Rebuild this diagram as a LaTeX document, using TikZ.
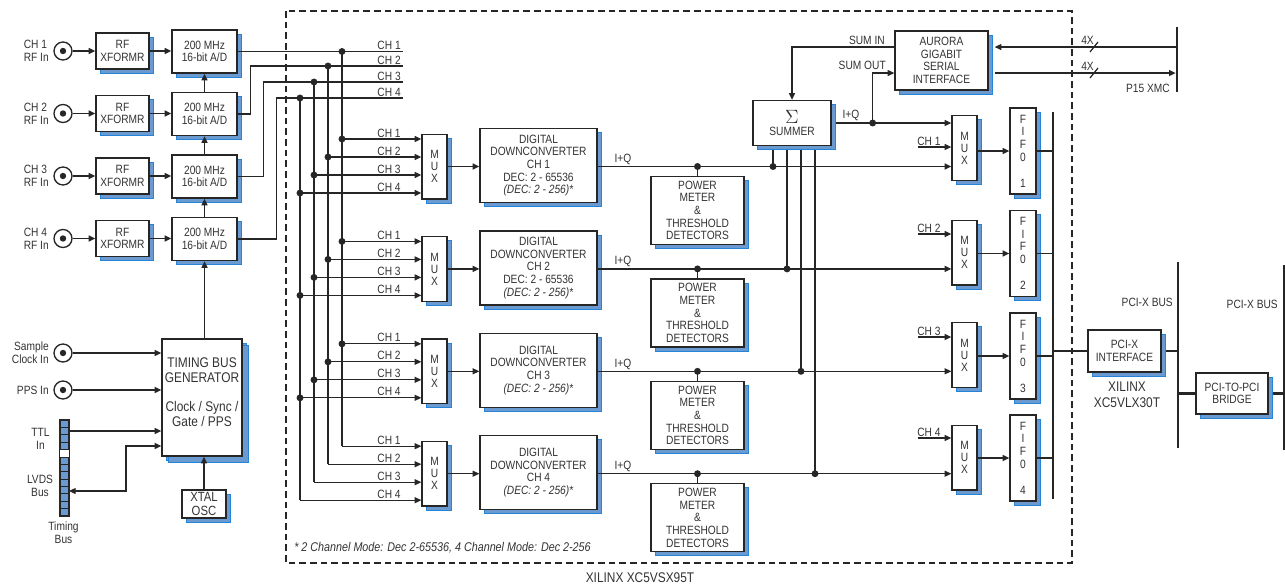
\documentclass[tikz,border=0pt]{standalone}
\usepackage{fontspec}
\setmainfont{Liberation Sans}[FakeStretch=0.85]
\usetikzlibrary{arrows.meta,shadows}
\definecolor{linec}{HTML}{262626}
\definecolor{txt}{HTML}{333333}
\definecolor{shadowblue}{HTML}{6A9AD0}
\definecolor{shadowedge}{HTML}{2584D8}

\begin{document}
\begin{tikzpicture}[x=0.75pt,y=-0.75pt,>={Triangle[length=5pt,width=4.5pt]}]
            \tikzstyle{every node}=[font=\fontsize{9}{9.5}\selectfont, text=txt, inner sep=0pt]
            \tikzstyle{blk}=[draw=linec, fill=white, line width=1pt, align=center, drop shadow={shadow xshift=3.5pt, shadow yshift=-3pt, fill=shadowblue, draw=shadowedge, line width=0.5pt, opacity=1}]
            \tikzstyle{rfbox}=[blk, minimum width=39.75pt, minimum height=27pt]
            \tikzstyle{adbox}=[blk, minimum width=48.75pt, minimum height=32.25pt]
            \tikzstyle{muxbox}=[blk, minimum width=18.75pt, minimum height=48.5pt, font=\fontsize{9}{9}\selectfont]
            \tikzstyle{ddcbox}=[blk, minimum width=87.75pt, minimum height=55.5pt]
            \tikzstyle{pmbox}=[blk, minimum width=69.75pt, minimum height=51pt]
            \tikzstyle{fifobox}=[blk, minimum width=19.5pt, minimum height=64.5pt]
            \tikzstyle{wire}=[linec, line width=0.9pt]
            \tikzstyle{bus}=[linec, line width=2pt]
            \tikzstyle{jack}=[circle, draw=linec, line width=1pt, minimum size=13.5pt, path picture={\fill[linec] (path picture bounding box.center) circle (2.4pt);}]
            \useasboundingbox (0,0) rectangle (1285,586);
            \draw [linec, line width=0.8pt, dash pattern=on 5pt off 3pt] (286,11) rectangle (1072,563);
            \node[anchor=east, align=left] (lbl1) at (49,51) {CH 1\\RF In};
            \node[anchor=east, align=left] (lbl2) at (49,113.5) {CH 2\\RF In};
            \node[anchor=east, align=left] (lbl3) at (49,176) {CH 3\\RF In};
            \node[anchor=east, align=left] (lbl4) at (49,238.5) {CH 4\\RF In};
            \node[jack] (rfin1) at (63,51) {};
            \node[jack] (rfin2) at (63,113.5) {};
            \node[jack] (rfin3) at (63,176) {};
            \node[jack] (rfin4) at (63,238.5) {};
            \node[rfbox] (xf1) at (122.5,51) {RF\\XFORMR};
            \node[rfbox] (xf2) at (122.5,113.5) {RF\\XFORMR};
            \node[rfbox] (xf3) at (122.5,176) {RF\\XFORMR};
            \node[rfbox] (xf4) at (122.5,238.5) {RF\\XFORMR};
            \node[adbox] (ad1) at (204.5,51.5) {200 MHz\\16-bit A/D};
            \node[adbox] (ad2) at (204.5,114) {200 MHz\\16-bit A/D};
            \node[adbox] (ad3) at (204.5,176.5) {200 MHz\\16-bit A/D};
            \node[adbox] (ad4) at (204.5,239) {200 MHz\\16-bit A/D};
            \draw [wire,->] (rfin1) -- (xf1);
            \draw [wire,->] (rfin2) -- (xf2);
            \draw [wire,->] (rfin3) -- (xf3);
            \draw [wire,->] (rfin4) -- (xf4);
            \draw [wire,->] (xf1.east) -- (xf1.east -| ad1.west);
            \draw [wire,->] (xf2.east) -- (xf2.east -| ad2.west);
            \draw [wire,->] (xf3.east) -- (xf3.east -| ad3.west);
            \draw [wire,->] (xf4.east) -- (xf4.east -| ad4.west);
            \draw [wire,->] (ad2.north) -- (ad1.south);
            \draw [wire,->] (ad3.north) -- (ad2.south);
            \draw [wire,->] (ad4.north) -- (ad3.south);
            \node[blk, minimum width=60pt, minimum height=87.75pt, font=\fontsize{10.5}{11.25}\selectfont, drop shadow={shadow xshift=5pt, shadow yshift=-5pt, fill=shadowblue, draw=shadowedge, line width=0.5pt, opacity=1}] (tbg) at (202,397.5) {TIMING BUS\\GENERATOR\\[11pt]Clock / Sync /\\Gate / PPS\\[-3.25pt]};
            \node[blk, minimum width=33pt, minimum height=21pt, font=\fontsize{10}{10}\selectfont] (xtal) at (204,504) {XTAL\\OSC};
            \draw [wire,->] (ad4.south |- tbg.north) -- (ad4.south);
            \draw [wire,->] (xtal.north) -- (xtal.north |- tbg.south);
            \node[anchor=east, align=right] (sclklbl) at (49,353) {Sample\\Clock In};
            \node[anchor=east] (ppslbl) at (49,390) {PPS In};
            \node[jack] (sclk) at (63,353) {};
            \node[jack] (pps) at (63,390) {};
            \draw [wire,->] (sclk) -- (sclk -| tbg.west);
            \draw [wire,->] (pps) -- (pps -| tbg.west);
            \node[draw=linec, fill=shadowblue, line width=0.8pt, minimum width=6.75pt, minimum height=72pt] (tbus) at (64.5,468) {};
            \fill [white] (60,449.5) rectangle (69,456.9);
            \draw [linec, line width=0.6pt] (60,427.4) -- (69,427.4) (60,434.8) -- (69,434.8) (60,442.2) -- (69,442.2) (60,449.5) -- (69,449.5) (60,456.9) -- (69,456.9) (60,464.3) -- (69,464.3) (60,471.7) -- (69,471.7) (60,479.1) -- (69,479.1) (60,486.5) -- (69,486.5) (60,493.8) -- (69,493.8) (60,501.2) -- (69,501.2) (60,508.6) -- (69,508.6);
            \draw [linec, line width=0.8pt] (tbus.south west) rectangle (tbus.north east);
            \coordinate (ttl) at (69,431);
            \coordinate (lvds) at (69,491);
            \coordinate (lvdsbend) at (126,446);
            \draw [wire,->] (ttl) -- (ttl -| tbg.west);
            \draw [wire,<->] (lvds) -| (lvdsbend) -- (lvdsbend -| tbg.west);
            \node[align=center] (ttllbl) at (40.5,439) {TTL\\In};
            \node[align=center] (lvdslbl) at (40,486) {LVDS\\Bus};
            \node[align=center] (tbuslbl) at (63.5,533) {Timing\\Bus};
            \coordinate (bus1) at (403,51.5);
            \coordinate (bus2) at (403,66);
            \coordinate (bus3) at (403,82);
            \coordinate (bus4) at (403,98);
            \draw [wire] (ad1.east) -- (bus1);
            \draw [wire] (ad2.east) -- ++(13,0) |- (bus2);
            \draw [wire] (ad3.east) -- ++(26,0) |- (bus3);
            \draw [wire] (ad4.east) -- ++(39,0) |- (bus4);
            \node[anchor=south east] (bl1) at (401,50) {CH 1};
            \node[anchor=south east] (bl2) at (401,64.5) {CH 2};
            \node[anchor=south east] (bl3) at (401,80.5) {CH 3};
            \node[anchor=south east] (bl4) at (401,96.5) {CH 4};
            \node[muxbox] (mux1) at (434.5,166.5) {M\\U\\X};
            \node[muxbox] (mux2) at (434.5,268.9) {M\\U\\X};
            \node[muxbox] (mux3) at (434.5,371.3) {M\\U\\X};
            \node[muxbox] (mux4) at (434.5,473.7) {M\\U\\X};
            \coordinate (in11) at (342,139);
            \coordinate (in12) at (328,157);
            \coordinate (in13) at (314,175);
            \coordinate (in14) at (300,193);
            \coordinate (in21) at (342,241.4);
            \coordinate (in22) at (328,259.4);
            \coordinate (in23) at (314,277.4);
            \coordinate (in24) at (300,295.4);
            \coordinate (in31) at (342,343.8);
            \coordinate (in32) at (328,361.8);
            \coordinate (in33) at (314,379.8);
            \coordinate (in34) at (300,397.8);
            \coordinate (in41) at (342,446.2);
            \coordinate (in42) at (328,464.2);
            \coordinate (in43) at (314,482.2);
            \coordinate (in44) at (300,500.2);
            \draw [wire] (in41 |- bus1) -- (in41);
            \draw [wire] (in42 |- bus2) -- (in42);
            \draw [wire] (in43 |- bus3) -- (in43);
            \draw [wire] (in44 |- bus4) -- (in44);
            \fill [linec] (in41 |- bus1) circle (2.6pt);
            \fill [linec] (in42 |- bus2) circle (2.6pt);
            \fill [linec] (in43 |- bus3) circle (2.6pt);
            \fill [linec] (in44 |- bus4) circle (2.6pt);
            \draw [wire,->] (in11) -- (in11 -| mux1.west);
            \draw [wire,->] (in12) -- (in12 -| mux1.west);
            \draw [wire,->] (in13) -- (in13 -| mux1.west);
            \draw [wire,->] (in14) -- (in14 -| mux1.west);
            \draw [wire,->] (in21) -- (in21 -| mux2.west);
            \draw [wire,->] (in22) -- (in22 -| mux2.west);
            \draw [wire,->] (in23) -- (in23 -| mux2.west);
            \draw [wire,->] (in24) -- (in24 -| mux2.west);
            \draw [wire,->] (in31) -- (in31 -| mux3.west);
            \draw [wire,->] (in32) -- (in32 -| mux3.west);
            \draw [wire,->] (in33) -- (in33 -| mux3.west);
            \draw [wire,->] (in34) -- (in34 -| mux3.west);
            \draw [wire,->] (in41) -- (in41 -| mux4.west);
            \draw [wire,->] (in42) -- (in42 -| mux4.west);
            \draw [wire,->] (in43) -- (in43 -| mux4.west);
            \draw [wire,->] (in44) -- (in44 -| mux4.west);
            \fill [linec] (in11) circle (2.6pt);
            \fill [linec] (in12) circle (2.6pt);
            \fill [linec] (in13) circle (2.6pt);
            \fill [linec] (in14) circle (2.6pt);
            \fill [linec] (in21) circle (2.6pt);
            \fill [linec] (in22) circle (2.6pt);
            \fill [linec] (in23) circle (2.6pt);
            \fill [linec] (in24) circle (2.6pt);
            \fill [linec] (in31) circle (2.6pt);
            \fill [linec] (in32) circle (2.6pt);
            \fill [linec] (in33) circle (2.6pt);
            \fill [linec] (in34) circle (2.6pt);
            \node[anchor=south] (c11) at (389,137.5) {CH 1};
            \node[anchor=south] (c12) at (389,155.5) {CH 2};
            \node[anchor=south] (c13) at (389,173.5) {CH 3};
            \node[anchor=south] (c14) at (389,191.5) {CH 4};
            \node[anchor=south] (c21) at (389,239.9) {CH 1};
            \node[anchor=south] (c22) at (389,257.9) {CH 2};
            \node[anchor=south] (c23) at (389,275.9) {CH 3};
            \node[anchor=south] (c24) at (389,293.9) {CH 4};
            \node[anchor=south] (c31) at (389,342.3) {CH 1};
            \node[anchor=south] (c32) at (389,360.3) {CH 2};
            \node[anchor=south] (c33) at (389,378.3) {CH 3};
            \node[anchor=south] (c34) at (389,396.3) {CH 4};
            \node[anchor=south] (c41) at (389,444.7) {CH 1};
            \node[anchor=south] (c42) at (389,462.7) {CH 2};
            \node[anchor=south] (c43) at (389,480.7) {CH 3};
            \node[anchor=south] (c44) at (389,498.7) {CH 4};
            \node[ddcbox] (ddc1) at (538.5,165.5) {DIGITAL\\DOWNCONVERTER\\CH 1\\DEC: 2 - 65536\\\textit{(DEC: 2 - 256)*}};
            \node[ddcbox] (ddc2) at (538.5,267.9) {DIGITAL\\DOWNCONVERTER\\CH 2\\DEC: 2 - 65536\\\textit{(DEC: 2 - 256)*}};
            \node[ddcbox] (ddc3) at (538.5,370.3) {DIGITAL\\DOWNCONVERTER\\CH 3\\\textit{(DEC: 2 - 256)*}};
            \node[ddcbox] (ddc4) at (538.5,472.7) {DIGITAL\\DOWNCONVERTER\\CH 4\\\textit{(DEC: 2 - 256)*}};
            \draw [wire,->] (mux1.east) -- (mux1.east -| ddc1.west);
            \draw [wire,->] (mux2.east) -- (mux2.east -| ddc2.west);
            \draw [wire,->] (mux3.east) -- (mux3.east -| ddc3.west);
            \draw [wire,->] (mux4.east) -- (mux4.east -| ddc4.west);
            \node[pmbox] (pm1) at (697.5,210.5) {POWER\\METER\\\&\\THRESHOLD\\DETECTORS};
            \node[pmbox] (pm2) at (697.5,312.9) {POWER\\METER\\\&\\THRESHOLD\\DETECTORS};
            \node[pmbox] (pm3) at (697.5,415.3) {POWER\\METER\\\&\\THRESHOLD\\DETECTORS};
            \node[pmbox] (pm4) at (697.5,517.7) {POWER\\METER\\\&\\THRESHOLD\\DETECTORS};
            \node[blk, minimum width=58.5pt, minimum height=33.75pt] (sum) at (792,123) {{\fontsize{15}{15}\selectfont$\Sigma$}\\SUMMER};
            \node[blk, minimum width=69.75pt, minimum height=44.25pt] (aur) at (941.5,60.5) {AURORA\\GIGABIT\\SERIAL\\INTERFACE};
            \node[muxbox] (rmux1) at (964.5,148) {M\\U\\X};
            \node[muxbox] (rmux2) at (964.5,252.5) {M\\U\\X};
            \node[muxbox] (rmux3) at (964.5,355) {M\\U\\X};
            \node[muxbox] (rmux4) at (964.5,457.5) {M\\U\\X};
            \coordinate (iq1) at (mux1.east -| ddc1.east);
            \coordinate (iq2) at (mux2.east -| ddc2.east);
            \coordinate (iq3) at (mux3.east -| ddc3.east);
            \coordinate (iq4) at (mux4.east -| ddc4.east);
            \draw [wire,->] (iq1) -- (iq1 -| rmux1.west);
            \draw [wire,->] (iq2) -- (iq2 -| rmux2.west);
            \draw [wire,->] (iq3) -- (iq3 -| rmux3.west);
            \draw [wire,->] (iq4) -- (iq4 -| rmux4.west);
            \node[anchor=south] (iql1) at (623,165) {I+Q};
            \node[anchor=south] (iql2) at (623,267.4) {I+Q};
            \node[anchor=south] (iql3) at (623,369.8) {I+Q};
            \node[anchor=south] (iql4) at (623,472.2) {I+Q};
            \draw [wire] (pm1.north |- iq1) -- (pm1.north);
            \draw [wire] (pm2.north |- iq2) -- (pm2.north);
            \draw [wire] (pm3.north |- iq3) -- (pm3.north);
            \draw [wire] (pm4.north |- iq4) -- (pm4.north);
            \fill [linec] (pm1.north |- iq1) circle (2.6pt);
            \fill [linec] (pm2.north |- iq2) circle (2.6pt);
            \fill [linec] (pm3.north |- iq3) circle (2.6pt);
            \fill [linec] (pm4.north |- iq4) circle (2.6pt);
            \coordinate (so1) at ([xshift=-14.25pt,yshift=-3pt]sum.south);
            \coordinate (so2) at ([xshift=-3.75pt,yshift=-3pt]sum.south);
            \coordinate (so3) at ([xshift=6.75pt,yshift=-3pt]sum.south);
            \coordinate (so4) at ([xshift=17.25pt,yshift=-3pt]sum.south);
            \draw [wire] (so1) -- (so1 |- iq1);
            \draw [wire] (so2) -- (so2 |- iq2);
            \draw [wire] (so3) -- (so3 |- iq3);
            \draw [wire] (so4) -- (so4 |- iq4);
            \fill [linec] (so1 |- iq1) circle (2.6pt);
            \fill [linec] (so2 |- iq2) circle (2.6pt);
            \fill [linec] (so3 |- iq3) circle (2.6pt);
            \fill [linec] (so4 |- iq4) circle (2.6pt);
            \draw [wire,->] ([xshift=3.5pt]sum.east) -- (sum.east -| rmux1.west);
            \node[anchor=south] (sumiq) at (851,121) {I+Q};
            \coordinate (sumj) at ([xshift=30.75pt]sum.east);
            \coordinate (sumin) at ([yshift=10.1pt]aur.west);
            \coordinate (sumout) at ([yshift=-9.4pt]aur.west);
            \fill [linec] (sumj) circle (2.6pt);
            \draw [wire,->] (sumj) |- (sumout);
            \draw [wire,->] (sumin) -| (sum.north);
            \node[anchor=south east] (suminlbl) at (885,45) {SUM IN};
            \node[anchor=south east] (sumoutlbl) at (886,70) {SUM OUT};
            \coordinate (xmctop) at (1177,27);
            \coordinate (xmcbot) at (1177,92);
            \draw [bus] (xmctop) -- (xmcbot);
            \coordinate (aurin) at ([xshift=4.5pt,yshift=10.1pt]aur.east);
            \coordinate (aurout) at ([xshift=4.5pt,yshift=-9.4pt]aur.east);
            \draw [wire,->] (aurin -| xmctop) -- (aurin);
            \draw [wire,->,shorten >=1pt] (aurout) -- (aurout -| xmctop);
            \draw [wire] (1090,52) -- (1098,42);
            \draw [wire] (1090,78) -- (1098,68);
            \node[anchor=south east] (fx1) at (1094,45) {4X};
            \node[anchor=south east] (fx2) at (1094,71) {4X};
            \node[anchor=east] (xmclbl) at (1170,88) {P15 XMC};
            \coordinate (chin1) at (918,147);
            \coordinate (chin2) at (918,234);
            \coordinate (chin3) at (918,337);
            \coordinate (chin4) at (918,438);
            \draw [wire,->] (chin1) -- (chin1 -| rmux1.west);
            \draw [wire,->] (chin2) -- (chin2 -| rmux2.west);
            \draw [wire,->] (chin3) -- (chin3 -| rmux3.west);
            \draw [wire,->] (chin4) -- (chin4 -| rmux4.west);
            \node[anchor=south west] (rc1) at (917,145.5) {CH 1};
            \node[anchor=south west] (rc2) at (917,232.5) {CH 2};
            \node[anchor=south west] (rc3) at (917,335.5) {CH 3};
            \node[anchor=south west] (rc4) at (917,436.5) {CH 4};
            \node[fifobox] (fifo1) at (1023,151) {F\\I\\F\\0\\[10pt]1};
            \node[fifobox] (fifo2) at (1023,253.5) {F\\I\\F\\0\\[10pt]2};
            \node[fifobox] (fifo3) at (1023,356) {F\\I\\F\\0\\[10pt]3};
            \node[fifobox] (fifo4) at (1023,458) {F\\I\\F\\0\\[10pt]4};
            \draw [wire,->] (fifo1.west -| rmux1.east) -- (fifo1.west);
            \draw [wire,->] (fifo2.west -| rmux2.east) -- (fifo2.west);
            \draw [wire,->] (fifo3.west -| rmux3.east) -- (fifo3.west);
            \draw [wire,->] (fifo4.west -| rmux4.east) -- (fifo4.west);
            \coordinate (fbtop) at (1053,112);
            \coordinate (fbbot) at (1053,499);
            \draw [bus] (fbtop) -- (fbbot);
            \draw [wire] (fifo1.east) -- (fifo1.east -| fbtop);
            \draw [wire] (fifo2.east) -- (fifo2.east -| fbtop);
            \draw [wire] (fifo3.east) -- (fifo3.east -| fbtop);
            \draw [wire] (fifo4.east) -- (fifo4.east -| fbtop);
            \node[blk, minimum width=54.75pt, minimum height=31.5pt] (pcix) at (1124.5,351) {PCI-X\\INTERFACE};
            \node[blk, minimum width=54pt, minimum height=30.75pt] (brg) at (1232,393.5) {PCI-TO-PCI\\BRIDGE};
            \coordinate (pxtop) at (1178,262);
            \coordinate (pxbot) at (1178,448);
            \coordinate (rbtop) at (1284,265);
            \coordinate (rbbot) at (1284,450);
            \draw [bus] (pxtop) -- (pxbot);
            \draw [bus] (rbtop) -- (rbbot);
            \draw [bus] (pcix.west -| fbtop) -- (pcix.west);
            \draw [bus] ([xshift=3.5pt]pcix.east) -- (pcix.east -| pxtop);
            \draw [bus] (brg.west -| pxtop) -- (brg.west);
            \draw [bus] ([xshift=3.5pt]brg.east) -- (brg.east -| rbtop);
            \node[anchor=east] (pxlbl1) at (1173,302) {PCI-X BUS};
            \node[anchor=east] (pxlbl2) at (1278,304) {PCI-X BUS};
            \node[align=center, font=\fontsize{10.5}{12}\selectfont] (lxlbl) at (1127,395) {XILINX\\XC5VLX30T};
            \node[font=\fontsize{10.5}{12}\selectfont] (sxlbl) at (640,578) {XILINX XC5VSX95T};
            \node[anchor=west, font=\fontsize{9.5}{10}\selectfont\itshape] (note) at (294,548) {* 2 Channel Mode: Dec 2-65536, 4 Channel Mode: Dec 2-256};
        \end{tikzpicture}
\end{document}
